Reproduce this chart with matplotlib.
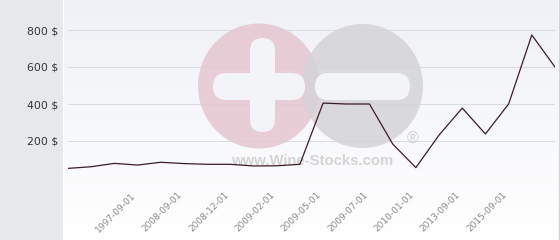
import numpy as np
import matplotlib.pyplot as plt
import matplotlib.patches as mpatches
import matplotlib.transforms as mtransforms

# Price per bottle (USD), one value per observation date
prices = [52, 61, 79, 70, 85, 78, 74, 74, 65, 66, 74,
          405, 400, 400, 184, 56, 232, 378, 238, 400, 773, 600]
# Only every other date is labelled on the x axis
label_idx = [3, 5, 7, 9, 11, 13, 15, 17, 19]
date_labels = ['1997-09-01', '2008-09-01', '2008-12-01', '2009-02-01',
               '2009-05-01', '2009-07-01', '2010-01-01', '2013-09-01',
               '2015-09-01']
y_ticks = [200, 400, 600, 800]

W, H = 560, 240
fig = plt.figure(figsize=(W / 100, H / 100), dpi=100, facecolor='white')

# pixel coordinates (origin top-left) -> figure
px = mtransforms.Affine2D().scale(1 / 100, -1 / 100).translate(0, H / 100) + fig.dpi_scale_trans

# background: grey side panel + light vertical gradient
bg = fig.add_axes([0, 0, 1, 1], zorder=-10)
bg.set_xlim(0, W)
bg.set_ylim(H, 0)
bg.axis('off')
bg.add_patch(mpatches.Rectangle((0, 0), 63, H, color='#e6e9ec', lw=0))
grad = np.linspace(0, 1, 100)[:, None]
top = np.array([0.937, 0.945, 0.965])
bot = np.array([1.0, 1.0, 1.0])
img = top + (bot - top) * grad[..., None]
bg.imshow(img, extent=[64, 558, H, 0], aspect='auto')
bg.plot([558.5, 558.5], [0, H], color='#cfd2d6', lw=1)

ax = fig.add_axes([68 / W, 1 - 178 / H, 487 / W, 170 / H])
ax.set_facecolor('none')
x = np.arange(len(prices))
ax.set_xlim(0, len(prices) - 1)
ax.set_ylim(0, 170 / 37 * 200)

for s in ax.spines.values():
    s.set_visible(False)
ax.set_axisbelow(True)
ax.set_yticks([0] + y_ticks)
ax.set_yticklabels([''] + [f'{v} $' for v in y_ticks])
ax.yaxis.grid(True, color='#dcdde0', lw=0.8)
ax.tick_params(axis='y', length=0, pad=7, labelsize=7.8, labelcolor='#333333')

ax.set_xticks(label_idx)
ax.set_xticklabels(date_labels, rotation=45, ha='right', va='top')
ax.tick_params(axis='x', length=0, pad=9, labelsize=6.5, labelcolor='#8a8a8a')

# watermark logo
def wm(p):
    p.set_transform(px)
    p.set_clip_on(False)
    ax.add_patch(p)

wm(mpatches.Ellipse((259, 86), 122, 125, color='#e5c6cf', lw=0, alpha=0.85, zorder=1.2))
wm(mpatches.Ellipse((362.5, 86), 121, 124, color='#d4d4d6', lw=0, alpha=0.85, zorder=1.3))
hole = '#f3f4f8'
wm(mpatches.FancyBboxPatch((250, 38), 25, 94, boxstyle='round,pad=0,rounding_size=12.5',
                           color=hole, lw=0, zorder=1.4))
wm(mpatches.FancyBboxPatch((213, 73), 92, 27, boxstyle='round,pad=0,rounding_size=13.5',
                           color=hole, lw=0, zorder=1.4))
wm(mpatches.FancyBboxPatch((315, 73), 95, 27, boxstyle='round,pad=0,rounding_size=13.5',
                           color=hole, lw=0, zorder=1.4))
ax.text(312, 161, 'www.Wine-Stocks.com', transform=px, ha='center', va='center',
        fontsize=10.7, fontweight='bold', family='Liberation Sans', color='#d4d4d4', zorder=1.5)
ax.text(413, 139, '®', transform=px, ha='center', va='center',
        fontsize=11.5, family='Liberation Sans', color='#d0d0d0', zorder=1.5)

ax.plot(x, prices, color='#3b1c28', lw=0.9, zorder=3)

fig.savefig('out.png', dpi=100)
